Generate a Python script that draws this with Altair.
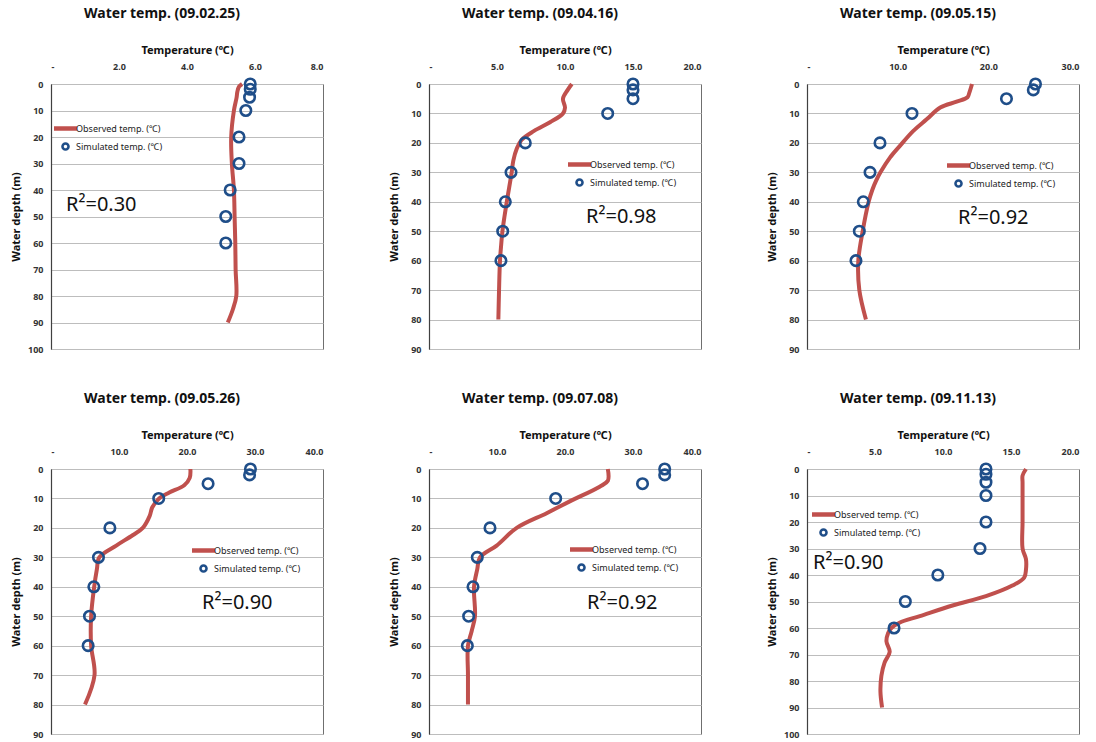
import altair as alt
import pandas as pd

FONT = "Noto Sans"
RED = "#C0504D"
BLUE = "#1F4E89"
OBS = "Observed temp. (℃)"
SIM = "Simulated temp. (℃)"

titles = ["Water temp. (09.02.25)", "Water temp. (09.04.16)", "Water temp. (09.05.15)",
          "Water temp. (09.05.26)", "Water temp. (09.07.08)", "Water temp. (09.11.13)"]
x_max = [8, 20, 30, 40, 40, 20]
x_ticks = [[0, 2, 4, 6, 8], [0, 5, 10, 15, 20], [0, 10, 20, 30],
           [0, 10, 20, 30, 40], [0, 10, 20, 30, 40], [0, 5, 10, 15, 20]]
y_max = [100, 90, 90, 90, 90, 100]
r2_text = ["R²=0.30", "R²=0.98", "R²=0.92", "R²=0.90", "R²=0.92", "R²=0.90"]

# Observed profiles (depth m, temperature C)
obs_depth_1 = [0, 1, 3, 5, 10, 20, 30, 40, 50, 60, 70, 80, 85, 90]
obs_temp_1 = [5.62, 5.53, 5.48, 5.46, 5.38, 5.30, 5.32, 5.38, 5.40, 5.42, 5.43, 5.45, 5.35, 5.20]
obs_depth_2 = [0, 2, 5, 8, 10, 13, 16, 19, 22, 26, 30, 35, 40, 45, 50, 55, 60, 70, 80]
obs_temp_2 = [10.5, 10.2, 9.85, 10.0, 9.85, 8.9, 7.7, 6.8, 6.45, 6.2, 6.08, 5.9, 5.72, 5.55, 5.4, 5.3, 5.22, 5.15, 5.1]
obs_depth_3 = [0, 3, 4.5, 6, 8, 12, 16, 21, 25, 30, 33, 36, 40, 50, 60, 70, 80]
obs_temp_3 = [18.2, 17.9, 17.7, 16.5, 14.7, 13.2, 11.7, 10.25, 9.15, 8.1, 7.6, 7.2, 6.8, 6.14, 5.66, 5.77, 6.5]
obs_depth_4 = [0, 3, 5.5, 8, 10, 13, 16, 20, 22.5, 26, 30, 34, 40, 50, 60, 70, 80]
obs_temp_4 = [20.5, 20.4, 19.6, 17.4, 15.9, 14.9, 14.5, 13.5, 12.0, 9.6, 7.1, 6.75, 6.35, 5.9, 5.9, 6.4, 5.0]
obs_depth_5 = [0, 4, 6, 11, 15, 20, 26, 30, 34, 40, 50, 55, 60, 70, 80]
obs_temp_5 = [26.3, 26.3, 25.1, 20.7, 17.3, 12.9, 9.95, 7.5, 7.1, 6.62, 6.76, 6.28, 5.73, 5.73, 5.73]
obs_depth_6 = [0, 2.5, 5, 10, 20, 30, 34, 38, 41, 44, 48, 51.5, 55.5, 58, 60, 62, 65, 69, 73, 78, 84, 90]
obs_temp_6 = [16.1, 15.85, 15.85, 15.85, 15.85, 15.85, 16.1, 16.1, 15.97, 15.1, 13.16, 10.7, 8.3, 6.8, 6.2, 5.96, 5.84, 6.08, 5.71, 5.47, 5.4, 5.52]

# Simulated values at fixed depths
sim_depth = [0, 2, 5, 10, 20, 30, 40, 50, 60]
sim_temp_1 = [5.86, 5.86, 5.84, 5.73, 5.53, 5.53, 5.27, 5.14, 5.14]
sim_temp_2 = [15.0, 15.0, 15.0, 13.14, 7.08, 6.03, 5.61, 5.42, 5.29]
sim_temp_3 = [25.2, 24.96, 22.0, 11.58, 8.05, 6.95, 6.21, 5.77, 5.4]
sim_temp_4 = [29.33, 29.2, 23.1, 15.84, 8.66, 6.98, 6.3, 5.66, 5.46]
sim_temp_5 = [34.66, 34.66, 31.4, 18.63, 8.97, 7.1, 6.47, 5.83, 5.64]
sim_temp_6 = [13.16, 13.16, 13.16, 13.16, 13.16, 12.72, 9.62, 7.23, 6.4]

obs_depths = [obs_depth_1, obs_depth_2, obs_depth_3, obs_depth_4, obs_depth_5, obs_depth_6]
obs_temps = [obs_temp_1, obs_temp_2, obs_temp_3, obs_temp_4, obs_temp_5, obs_temp_6]
sim_temps = [sim_temp_1, sim_temp_2, sim_temp_3, sim_temp_4, sim_temp_5, sim_temp_6]

# layout (pixels relative to each plot area)
legend_xy = [(7, 37), (143, 73), (144, 74), (145, 74), (145, 73), (9, 38)]
r2_xy = [(15, 121), (157, 133), (151, 134), (151, 134), (158, 134), (6, 94)]

PW, PH = 272, 265

LINE_SYM = "M-2.3,0L2.3,0"
CIRC_SYM = "M0.6,0A0.6,0.6,0,1,1,-0.6,0A0.6,0.6,0,1,1,0.6,0Z"


def panel(i):
    obs = pd.DataFrame({"depth": obs_depths[i], "temp": obs_temps[i], "series": OBS})
    sim = pd.DataFrame({"depth": sim_depth, "temp": sim_temps[i], "series": SIM})
    xenc = alt.X("temp:Q", scale=alt.Scale(domain=[0, x_max[i]], nice=False, zero=True),
                 axis=alt.Axis(orient="top", values=x_ticks[i], title="Temperature (℃)",
                               labelExpr="datum.value == 0 ? '-' : format(datum.value, '.1f')"))
    yenc = alt.Y("depth:Q", scale=alt.Scale(domain=[0, y_max[i]], reverse=True, nice=False),
                 axis=alt.Axis(values=list(range(0, y_max[i] + 1, 10)), title="Water depth (m)",
                               format="d"))
    leg = alt.Legend(orient="none", legendX=legend_xy[i][0], legendY=legend_xy[i][1],
                     title=None, symbolOpacity=1)
    dom = [OBS, SIM]
    line = alt.Chart(obs).mark_line(strokeWidth=4, interpolate="catmull-rom", color=RED).encode(
        x=xenc, y=yenc, order=alt.Order("depth:Q"))
    pts = alt.Chart(sim).mark_point(filled=False, size=110, strokeWidth=2.6, opacity=1,
                                    color=BLUE).encode(x=xenc, y=yenc)
    legend_layer = alt.Chart(sim).transform_filter("false").mark_point(filled=False).encode(
        x=xenc, y=yenc,
        color=alt.Color("series:N", scale=alt.Scale(domain=dom, range=[RED, BLUE]), legend=leg),
        shape=alt.Shape("series:N", scale=alt.Scale(domain=dom, range=[LINE_SYM, CIRC_SYM]), legend=leg),
        strokeWidth=alt.StrokeWidth("series:N", scale=alt.Scale(type="point", domain=dom,
                                                                range=[4.5, 2.6], padding=0), legend=leg),
    )
    txt = alt.Chart(pd.DataFrame({"t": [r2_text[i]]})).mark_text(
        align="left", baseline="middle", fontSize=20, font=FONT, color="#111").encode(
        text="t:N", x=alt.value(r2_xy[i][0]), y=alt.value(r2_xy[i][1]))
    return alt.layer(line, pts, legend_layer, txt).properties(
        width=PW, height=PH,
        title=alt.TitleParams(titles[i], font=FONT, fontSize=14, fontWeight="bold",
                              anchor="middle", frame="group", offset=23, dx=-25, color="#111"))


chart = alt.concat(*[panel(i) for i in range(6)], columns=3,
                   spacing={"row": 120, "column": 106}, bounds="flush").resolve_scale(
    color="independent", shape="independent", strokeWidth="independent").resolve_legend(
    color="independent", shape="independent", strokeWidth="independent").properties(
    padding={"left": 9, "top": 6, "right": 5, "bottom": 5}
).configure(font=FONT).configure_view(
    stroke="#6f6f6f", strokeWidth=1
).configure_axisY(
    domainColor="#404040", domainWidth=1.2, ticks=False, labelPadding=8, grid=True,
    gridColor="#bdbdbd", gridWidth=1, labelFont=FONT, labelFontSize=9, labelFontWeight="bold",
    labelColor="#333", titleFont=FONT, titleFontSize=11, titleFontWeight="bold", titleColor="#111",
    minExtent=24, maxExtent=24, titlePadding=6
).configure_axisX(
    grid=False, domain=False, ticks=False, labelPadding=13, labelFont=FONT, labelFontSize=9,
    labelFontWeight="bold", labelColor="#333", titleFont=FONT, titleFontSize=11,
    titleFontWeight="bold", titleColor="#111", titlePadding=6, minExtent=23, maxExtent=23
).configure_legend(
    labelFont=FONT, labelFontSize=9, labelColor="#222", padding=0, rowPadding=0,
    labelOffset=3, symbolOffset=0, symbolSize=100
)

chart.save("out.html", embed_options={"renderer": "svg", "actions": False})
